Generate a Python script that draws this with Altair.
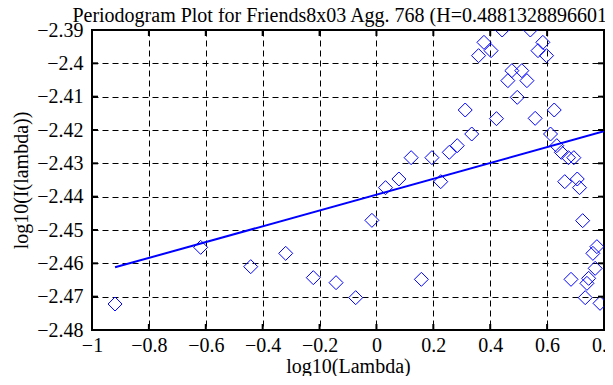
import altair as alt
import pandas as pd

# --- data ---
x_vals = [-0.919, -0.618, -0.442, -0.319, -0.222, -0.142, -0.073, -0.016,
          0.032, 0.079, 0.122, 0.158, 0.195, 0.226, 0.256, 0.284, 0.312,
          0.335, 0.359, 0.378, 0.403, 0.422, 0.442, 0.462, 0.476, 0.495,
          0.511, 0.529, 0.541, 0.558, 0.568, 0.585, 0.598, 0.612, 0.625,
          0.634, 0.650, 0.662, 0.675, 0.684, 0.694, 0.706, 0.714, 0.725,
          0.734, 0.740, 0.746, 0.761, 0.769, 0.775, 0.786]
y_vals = [-2.4722, -2.4552, -2.4610, -2.4570, -2.4643, -2.4658, -2.4703, -2.4471,
          -2.4373, -2.4347, -2.4283, -2.4648, -2.4283, -2.4355, -2.4267, -2.4247, -2.4140,
          -2.4212, -2.3977, -2.3937, -2.3962, -2.4166, -2.3900, -2.4052, -2.4022, -2.4102,
          -2.4022, -2.4052, -2.3900, -2.4165, -2.3962, -2.3937, -2.3977, -2.4212, -2.4140,
          -2.4247, -2.4267, -2.4355, -2.4283, -2.4648, -2.4283, -2.4347, -2.4373, -2.4472,
          -2.4703, -2.4660, -2.4645, -2.4570, -2.4615, -2.4550, -2.4720]

fit_x = [-0.919, 0.8]
fit_y = [-2.4612, -2.4204]

x_ticks = [-1, -0.8, -0.6, -0.4, -0.2, 0, 0.2, 0.4, 0.6, 0.8]
y_ticks = [-2.48, -2.47, -2.46, -2.45, -2.44, -2.43, -2.42, -2.41, -2.40, -2.39]

title_text = "Periodogram Plot for Friends8x03 Agg. 768 (H=0.48813288966013)"

FONT = "Liberation Serif"
FS = 20
W, H = 512, 300

pts = pd.DataFrame({"x": x_vals, "y": y_vals})
fit = pd.DataFrame({"x": fit_x, "y": fit_y})
xt = pd.DataFrame({"x": x_ticks})
yt = pd.DataFrame({"y": y_ticks})

xscale = alt.Scale(domain=[-1, 0.8], nice=False, zero=False)
yscale = alt.Scale(domain=[-2.48, -2.39], nice=False, zero=False)

xaxis = alt.Axis(values=x_ticks, format=".1~f", title="log10(Lambda)",
                 labelPadding=5, titlePadding=1)
yaxis = alt.Axis(values=y_ticks, format=".2~f", title="log10(I(lambda))",
                 labelPadding=9, titlePadding=5)

X = alt.X("x:Q", scale=xscale, axis=xaxis)
Y = alt.Y("y:Q", scale=yscale, axis=yaxis)

points = alt.Chart(pts).mark_point(shape="diamond", filled=False, color="#0000ff",
                                    size=196, strokeWidth=1, opacity=1, clip=True).encode(
    x=X, y=Y)

line = alt.Chart(fit).mark_line(color="#0000ff", strokeWidth=2, clip=True).encode(
    x=X, y=Y)

tick_len = 6
bottom_ticks = alt.Chart(xt).mark_rule(color="black", strokeWidth=2).encode(
    x=X, y=alt.value(H), y2=alt.value(H - tick_len))
top_ticks = alt.Chart(xt).mark_rule(color="black", strokeWidth=2).encode(
    x=X, y=alt.value(0), y2=alt.value(tick_len))
left_ticks = alt.Chart(yt).mark_rule(color="black", strokeWidth=2).encode(
    y=Y, x=alt.value(0), x2=alt.value(tick_len))
right_ticks = alt.Chart(yt).mark_rule(color="black", strokeWidth=2).encode(
    y=Y, x=alt.value(W), x2=alt.value(W - tick_len))

chart = alt.layer(points, line, bottom_ticks, top_ticks, left_ticks, right_ticks).properties(
    width=W, height=H,
    title=alt.TitleParams(title_text, font=FONT, fontSize=FS, fontWeight="normal",
                          color="black", anchor="middle", offset=0, dy=6),
    autosize=alt.AutoSizeParams(type="none"),
    padding={"left": 84, "top": 22, "right": 1, "bottom": 46},
    background="white",
).configure_view(
    stroke="black", strokeWidth=2
).configure_axis(
    grid=True, gridColor="black", gridDash=[6, 4], gridWidth=1, gridOpacity=1,
    ticks=False, tickSize=0, domain=False,
    labelFont=FONT, labelFontSize=FS, labelColor="black",
    labelOverlap=False, labelFlush=False,
    titleFont=FONT, titleFontSize=FS, titleFontWeight="normal", titleColor="black",
)

chart.save("out.html", embed_options={"renderer": "svg", "actions": False})
